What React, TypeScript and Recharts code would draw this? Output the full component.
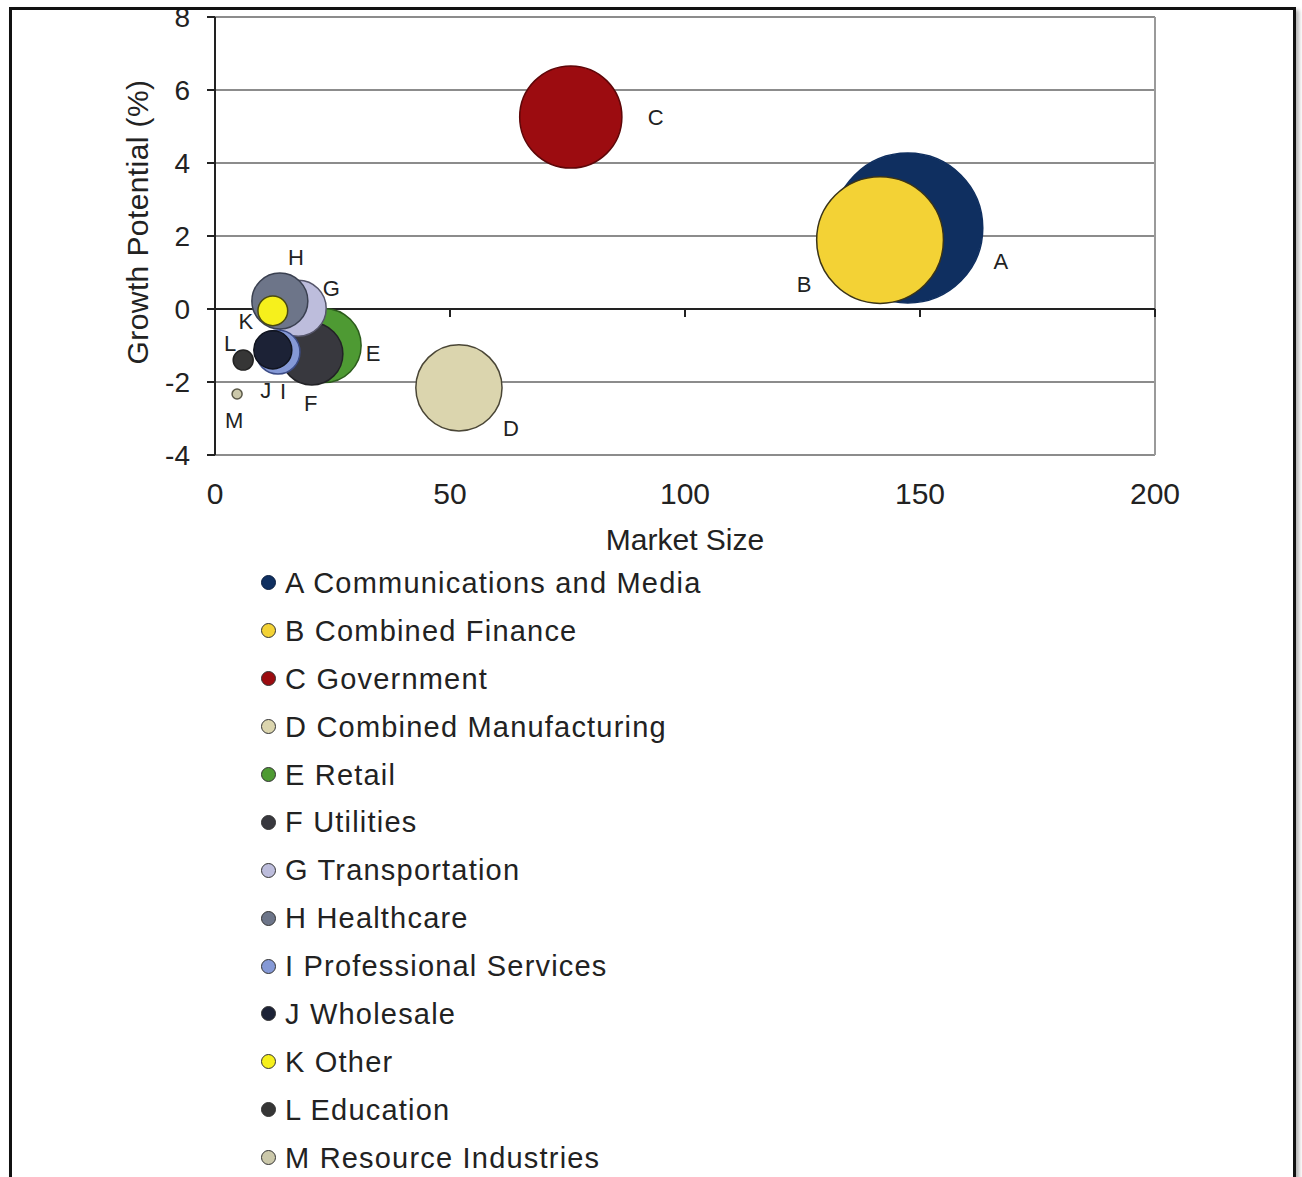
import { CartesianGrid, ReferenceLine, Scatter, ScatterChart, XAxis, YAxis, ZAxis } from "recharts";

// Sector bubbles: market size (x), growth potential % (y), bubble size (z)
const SECTOR_IDS = ["A", "B", "C", "D", "E", "F", "G", "H", "I", "J", "K", "L", "M"];
const SECTOR_NAMES = [
  "Communications and Media",
  "Combined Finance",
  "Government",
  "Combined Manufacturing",
  "Retail",
  "Utilities",
  "Transportation",
  "Healthcare",
  "Professional Services",
  "Wholesale",
  "Other",
  "Education",
  "Resource Industries",
];
const MARKET_SIZE = [147.4, 141.5, 75.7, 51.9, 23.2, 20.6, 17.7, 13.8, 13.4, 12.3, 12.3, 6.0, 4.7];
const GROWTH_POTENTIAL = [2.22, 1.89, 5.26, -2.16, -1.0, -1.23, 0.02, 0.22, -1.18, -1.12, -0.05, -1.4, -2.33];
const BUBBLE_SIZE = [56, 40, 26, 18.5, 13.7, 9.6, 7.8, 7.8, 4.8, 3.6, 2.2, 1.0, 0.25];

const X_TICKS = [0, 50, 100, 150, 200];
const Y_TICKS = [-4, -2, 0, 2, 4, 6, 8];

const FILLS = [
  "#0f2f60", "#f3d235", "#9c0c10", "#dbd5ae", "#4e9a33", "#38383e", "#bdbddc",
  "#6d7589", "#8599d6", "#1c2236", "#f6f01c", "#363636", "#cbc8aa",
];
const STROKES = [
  "#0f2f60", "#3a3418", "#5e0608", "#4a4636", "#2c5c1c", "#222226", "#56566a",
  "#3a4050", "#3c4c86", "#10141f", "#4a4a10", "#222222", "#5a5848",
];

// where each bubble's letter sits relative to its centre (px)
const TAG_OFFSET: Record<string, [number, number]> = {
  A: [93, 34],
  B: [-76, 44],
  C: [85, 0],
  D: [52, 41],
  E: [49, 8],
  F: [-1, 50],
  G: [33, -20],
  H: [16, -43],
  I: [5, 39],
  J: [-7, 41],
  K: [-27, 11],
  L: [-13, -17],
  M: [-3, 26],
};

const FONT = '"Liberation Sans", Arial, Helvetica, sans-serif';
const INK = "#222";

const sectors = SECTOR_IDS.map((id, i) => ({
  id,
  name: SECTOR_NAMES[i],
  x: MARKET_SIZE[i],
  y: GROWTH_POTENTIAL[i],
  z: BUBBLE_SIZE[i],
  fill: FILLS[i],
  stroke: STROKES[i],
}));

function Bubble(props: any) {
  const { cx, cy, size, width, payload, fill, stroke } = props;
  const r = size != null ? Math.sqrt(size / Math.PI) : width / 2;
  const [dx, dy] = TAG_OFFSET[payload.id];
  return (
    <g>
      <circle cx={cx} cy={cy} r={r} fill={fill} stroke={stroke} strokeWidth={1.5} />
      <text
        x={cx + dx}
        y={cy + dy}
        textAnchor="middle"
        dominantBaseline="central"
        fontSize={22}
        fontFamily={FONT}
        fill={INK}
      >
        {payload.id}
      </text>
    </g>
  );
}

function GrowthLabel(props: any) {
  const vb = props.viewBox;
  const x = vb.x + 82;
  const y = vb.y + vb.height / 2 - 14;
  return (
    <text
      x={x}
      y={y}
      transform={`rotate(-90, ${x}, ${y})`}
      textAnchor="middle"
      dominantBaseline="central"
      fontSize={30}
      letterSpacing={0.4}
      fontFamily={FONT}
      fill={INK}
    >
      Growth Potential (%)
    </text>
  );
}

export default function App() {
  return (
    <div style={{ position: "relative", width: 1302, height: 1177, overflow: "hidden", background: "#fff", fontFamily: FONT }}>
      <style>{"body{margin:0;overflow:hidden;}"}</style>
      <div style={{ position: "absolute", left: 0, top: 0 }}>
        <ScatterChart width={1302} height={560} margin={{ top: 17, right: 147, bottom: 5, left: 55 }}>
          <CartesianGrid vertical={false} stroke="#8c8c8c" strokeWidth={2} />
          <XAxis
            type="number"
            dataKey="x"
            domain={[0, 200]}
            ticks={X_TICKS}
            axisLine={false}
            tickLine={false}
            tickSize={0}
            tickMargin={28}
            height={100}
            tick={{ fontSize: 30, fill: INK, fontFamily: FONT }}
            label={{ value: "Market Size", position: "insideBottom", offset: 5, fontSize: 30, fill: INK, fontFamily: FONT }}
          />
          <YAxis
            type="number"
            dataKey="y"
            domain={[-4, 8]}
            ticks={Y_TICKS}
            width={160}
            axisLine={{ stroke: INK, strokeWidth: 2 }}
            tickLine={{ stroke: INK, strokeWidth: 2 }}
            tickSize={8}
            tickMargin={17}
            tick={{ fontSize: 28, fill: INK, fontFamily: FONT }}
            label={<GrowthLabel />}
          />
          <ZAxis type="number" dataKey="z" domain={[0, 56]} range={[0, Math.PI * 75 * 75]} />
          <ReferenceLine x={200} stroke="#9a9a9a" strokeWidth={2} />
          <ReferenceLine y={0} stroke={INK} strokeWidth={2} />
          {X_TICKS.slice(1).map((t) => (
            <ReferenceLine
              key={t}
              segment={[
                { x: t, y: 0 },
                { x: t, y: -0.22 },
              ]}
              stroke={INK}
              strokeWidth={2}
            />
          ))}
          {sectors.map((s) => (
            <Scatter
              key={s.id}
              name={`${s.id} ${s.name}`}
              data={[s]}
              fill={s.fill}
              isAnimationActive={false}
              shape={(p: any) => <Bubble {...p} fill={s.fill} stroke={s.stroke} />}
            />
          ))}
        </ScatterChart>
      </div>

      {/* legend */}
      <div style={{ position: "absolute", left: 261, top: 559 }}>
        {sectors.map((s) => (
          <div key={s.id} style={{ display: "flex", alignItems: "center", height: 47.9 }}>
            <span
              style={{
                display: "inline-block",
                width: 15,
                height: 15,
                borderRadius: "50%",
                background: s.fill,
                border: `1.5px solid ${s.stroke === s.fill ? "#0a1e40" : "#333"}`,
                boxSizing: "border-box",
                marginRight: 9,
              }}
            />
            <span style={{ fontSize: 29, letterSpacing: 1.2, color: INK, lineHeight: "30px" }}>
              {s.id} {s.name}
            </span>
          </div>
        ))}
      </div>

      {/* frame */}
      <div
        style={{
          position: "absolute",
          left: 9,
          top: 7,
          width: 1281,
          height: 1200,
          border: "3px solid #111",
          boxShadow: "3px 3px 4px rgba(0,0,0,0.3)",
          pointerEvents: "none",
        }}
      />
    </div>
  );
}
